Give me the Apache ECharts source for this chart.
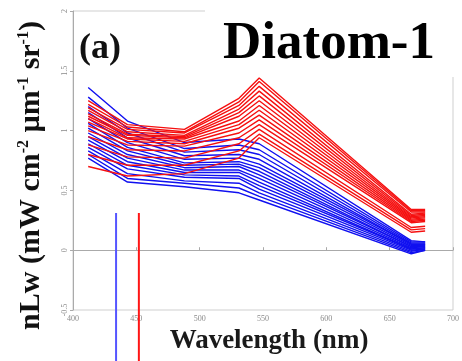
<!DOCTYPE html>
<html>
<head>
<meta charset="utf-8">
<script src="https://cdn.jsdelivr.net/npm/echarts@6/dist/echarts.min.js"></script>
<style>
  html, body { margin: 0; padding: 0; background: #fff; }
  #chart { width: 462px; height: 361px; }
</style>
</head>
<body>
<div id="chart"></div>
<script>
// MODIS band centres (nm)
const wavelengths = [412, 443, 488, 531, 547, 667, 678];

// nLw spectra, one row per station
const redSpectra = [
  [1.25, 1.05, 1.01, 1.27, 1.44, 0.34, 0.34],
  [1.22, 1.03, 0.99, 1.24, 1.41, 0.33, 0.33],
  [1.19, 1.01, 0.98, 1.21, 1.37, 0.32, 0.32],
  [1.17, 0.99, 0.96, 1.18, 1.33, 0.30, 0.31],
  [1.14, 0.97, 0.95, 1.15, 1.29, 0.29, 0.30],
  [1.12, 0.96, 0.94, 1.12, 1.25, 0.28, 0.29],
  [1.10, 0.94, 0.93, 1.08, 1.21, 0.27, 0.28],
  [1.07, 0.93, 0.91, 1.05, 1.17, 0.26, 0.27],
  [1.04, 0.91, 0.89, 1.02, 1.13, 0.25, 0.26],
  [1.00, 0.88, 0.87, 0.98, 1.09, 0.24, 0.25],
  [0.95, 0.84, 0.83, 0.94, 1.05, 0.23, 0.24],
  [0.88, 0.78, 0.77, 0.89, 1.01, 0.19, 0.20],
  [0.80, 0.71, 0.71, 0.83, 0.97, 0.17, 0.18],
  [0.70, 0.62, 0.64, 0.77, 0.94, 0.15, 0.16]
];

const blueSpectra = [
  [1.36, 1.08, 0.90, 0.93, 0.89, 0.08, 0.07],
  [1.28, 1.02, 0.85, 0.88, 0.84, 0.07, 0.07],
  [1.20, 0.98, 0.82, 0.84, 0.80, 0.06, 0.06],
  [1.15, 0.94, 0.79, 0.80, 0.76, 0.05, 0.05],
  [1.10, 0.90, 0.76, 0.77, 0.72, 0.05, 0.05],
  [1.06, 0.86, 0.73, 0.74, 0.69, 0.04, 0.04],
  [1.02, 0.83, 0.71, 0.72, 0.66, 0.03, 0.04],
  [0.98, 0.80, 0.69, 0.70, 0.63, 0.03, 0.03],
  [0.95, 0.77, 0.67, 0.67, 0.60, 0.02, 0.03],
  [0.92, 0.74, 0.65, 0.65, 0.57, 0.01, 0.02],
  [0.89, 0.71, 0.63, 0.62, 0.54, 0.01, 0.02],
  [0.86, 0.68, 0.61, 0.60, 0.51, 0.00, 0.01],
  [0.83, 0.64, 0.58, 0.56, 0.48, -0.01, 0.01],
  [0.80, 0.60, 0.56, 0.52, 0.45, -0.02, 0.00],
  [0.77, 0.57, 0.53, 0.48, 0.42, -0.03, 0.00]
];

// reference wavelengths marked by the two vertical bars (nm)
const markerBlue = 434;
const markerRed = 452;

const xTicks = [400, 450, 500, 550, 600, 650, 700];
const yTicks = [-0.5, 0, 0.5, 1, 1.5, 2];

const serif = '"Liberation Serif", "DejaVu Serif", serif';

function toPoints(row) {
  return row.map((v, i) => [wavelengths[i], v]);
}

const series = [];
blueSpectra.forEach(row => series.push({
  type: 'line', xAxisIndex: 0, yAxisIndex: 0, data: toPoints(row),
  symbol: 'none', lineStyle: { color: '#1010f0', width: 1.4 }, z: 3
}));
redSpectra.forEach(row => series.push({
  type: 'line', xAxisIndex: 0, yAxisIndex: 0, data: toPoints(row),
  symbol: 'none', lineStyle: { color: '#f51010', width: 1.4 }, z: 4
}));
series.push({
  type: 'line', xAxisIndex: 1, yAxisIndex: 1,
  data: [[markerBlue, 0], [markerBlue, 1]],
  symbol: 'none', lineStyle: { color: '#5555ff', width: 2 }, z: 6
});
series.push({
  type: 'line', xAxisIndex: 1, yAxisIndex: 1,
  data: [[markerRed, 0], [markerRed, 1]],
  symbol: 'none', lineStyle: { color: '#ff1515', width: 2 }, z: 6
});

const chart = echarts.init(document.getElementById('chart'), null, { renderer: 'canvas' });
chart.setOption({
  animation: false,
  backgroundColor: '#fff',
  title: [
    {
      text: 'Diatom-1', left: 205, top: 0,
      padding: [18, 40, 6, 18], backgroundColor: '#fff', z: 10,
      textStyle: { fontFamily: serif, fontWeight: 'bold', fontSize: 53, color: '#000' }
    },
    {
      text: '(a)', left: 79, top: 31, padding: 0, z: 10,
      textStyle: { fontFamily: serif, fontWeight: 'bold', fontSize: 36, color: '#111' }
    }
  ],
  grid: [
    { left: 73, right: 9, top: 11, bottom: 51, show: true, borderColor: '#cfcfcf', borderWidth: 1, backgroundColor: 'transparent' },
    { left: 73, right: 9, top: 213, bottom: 0 }
  ],
  xAxis: [
    {
      gridIndex: 0, type: 'value', min: xTicks[0], max: xTicks[xTicks.length - 1], interval: 50,
      splitLine: { show: false },
      axisLine: { lineStyle: { color: '#aaaaaa' } },
      axisTick: { inside: true, length: 3, lineStyle: { color: '#aaaaaa' } },
      axisLabel: { fontFamily: serif, fontSize: 8, color: '#8a8a8a', margin: 5 },
      name: 'Wavelength (nm)', nameLocation: 'middle', nameGap: 17,
      nameTextStyle: { fontFamily: serif, fontWeight: 'bold', fontSize: 27, color: '#1a1a1a', padding: [0, 0, 0, 12] }
    },
    { gridIndex: 1, type: 'value', min: 400, max: 700, show: false }
  ],
  yAxis: [
    {
      gridIndex: 0, type: 'value', min: yTicks[0], max: yTicks[yTicks.length - 1], interval: 0.5,
      splitLine: { show: false },
      axisLine: { show: true, lineStyle: { color: '#aaaaaa' } },
      axisTick: { show: true, inside: false, length: 3, lineStyle: { color: '#aaaaaa' } },
      axisLabel: { fontFamily: serif, fontSize: 8, color: '#8a8a8a', rotate: 90, margin: 4 },
      name: 'nLw (mW cm{sup|-2} \u00b5m{sup|-1} sr{sup|-1})',
      nameLocation: 'middle', nameRotate: 90, nameGap: 27,
      nameTextStyle: {
        fontFamily: serif, fontWeight: 'bold', fontSize: 30, color: '#111',
        padding: [0, 30, 0, 0],
        rich: {
          sup: { fontFamily: serif, fontWeight: 'bold', fontSize: 16, color: '#111', verticalAlign: 'top', padding: [0, 0, 14, 0] }
        }
      }
    },
    { gridIndex: 1, type: 'value', min: 0, max: 1, show: false }
  ],
  series: series
});
</script>
</body>
</html>
